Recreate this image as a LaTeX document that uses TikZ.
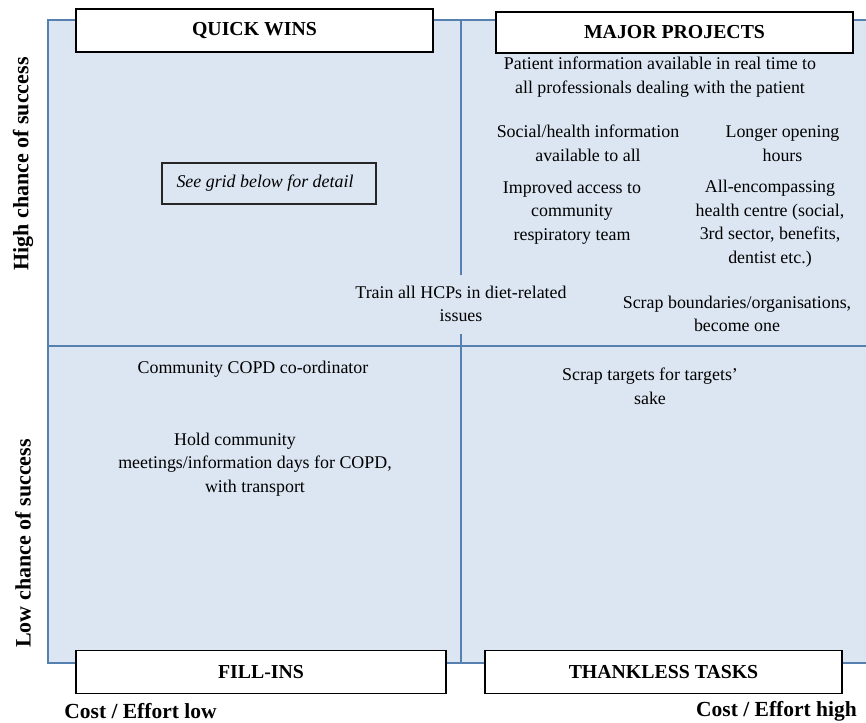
\documentclass[tikz,border=0pt]{standalone}
\usepackage{fontspec}
\setmainfont{Liberation Serif}
\usepackage{tikz}
\usetikzlibrary{positioning}
\definecolor{gridfill}{HTML}{DCE6F2}
\definecolor{gridline}{HTML}{5580B0}

\begin{document}
\begin{tikzpicture}[x=1pt, y=-1pt,
  every node/.style={font=\fontsize{17.9}{23.5}\selectfont},
  titlebox/.style={draw=black, line width=1.6pt, fill=white, minimum width=357pt, minimum height=43pt, font=\fontsize{19.8}{23}\selectfont\bfseries},
  idea/.style={align=center, inner sep=0pt},
  axislabel/.style={font=\fontsize{22}{24}\selectfont\bfseries, inner sep=0pt}]
\useasboundingbox (0,0) rectangle (866,722);
\filldraw [fill=gridfill, draw=gridline, line width=1.6pt] (48, 20) rectangle (872, 663);
\draw [gridline, line width=1.6pt] (461, 20) -- (461, 663);
\draw [gridline, line width=1.6pt] (48, 346) -- (872, 346);
% quadrant titles
\node[titlebox] (quick) at (254.5, 30.5) {QUICK WINS};
\node[titlebox, minimum height=41pt] (major) at (674.5, 32.5) {MAJOR PROJECTS};
\node[titlebox, minimum width=370pt] (fill) at (261, 672) {FILL-INS};
\node[titlebox] (thankless) at (663.5, 672) {THANKLESS TASKS};
% axes
\node[axislabel, rotate=90] (high) at (23, 164) {High chance of success};
\node[axislabel, rotate=90] (low) at (23, 543.5) {Low chance of success};
\node[axislabel, font=\fontsize{21.5}{24}\selectfont\bfseries] (costlow) at (140.5, 711) {Cost / Effort low};
\node[axislabel, font=\fontsize{21.5}{24}\selectfont\bfseries, anchor=east] (costhigh) at (857, 711) {Cost / Effort high};
% quick wins
\node[draw=black!85, line width=1.4pt, minimum width=214pt, minimum height=41pt, font=\fontsize{17.9}{23.5}\selectfont\itshape] (seegrid) at (269, 183.5) {See grid below for detail\hspace*{8pt}};
% major projects
\node[idea] (patient) at (660, 77) {Patient information available in real time to\\all professionals dealing with the patient};
\node[idea] (social) at (588, 143.5) {Social/health information\\available to all};
\node[idea] (opening) at (782.5, 143.5) {Longer opening\\hours};
\node[idea] (access) at (572, 212.5) {Improved access to\\community\\respiratory team};
\node[idea] (centre) at (770, 223.5) {All-encompassing\\health centre (social,\\3rd sector, benefits,\\dentist etc.)};
\node[idea, fill=gridfill, minimum height=59pt] (train) at (461, 304) {Train all HCPs in diet-related\\issues};
\node[idea] (scrapbound) at (737, 314) {Scrap boundaries/organisations,\\become one};
% fill-ins
\node[idea] (copd) at (253, 369) {Community COPD co-ordinator};
\node[idea] (meetings) at (255, 464.5) {Hold community\hspace*{40pt}\\meetings/information days for COPD,\\with transport};
% thankless tasks
\node[idea] (scraptarget) at (650, 386.5) {Scrap targets for targets'\\sake};
\end{tikzpicture}
\end{document}
